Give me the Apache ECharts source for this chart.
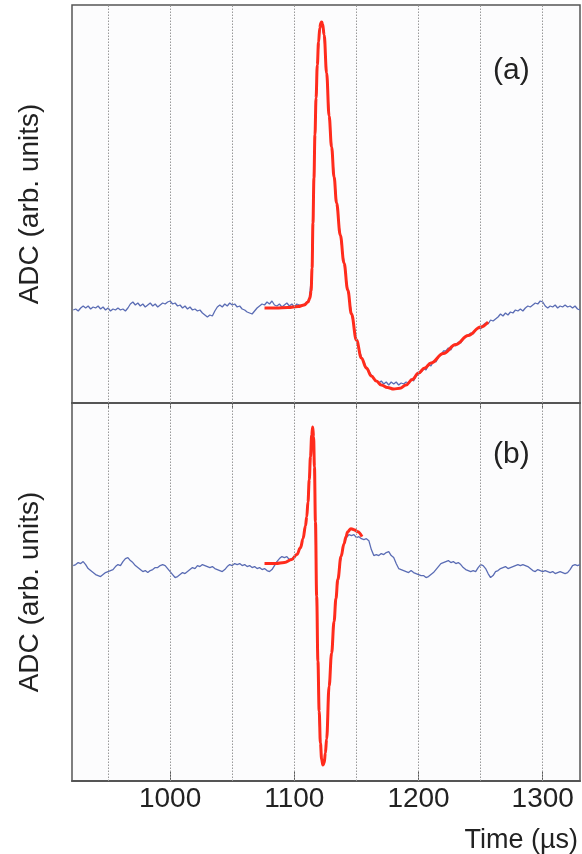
<!DOCTYPE html>
<html><head><meta charset="utf-8">
<script src="https://cdn.jsdelivr.net/npm/echarts@6/dist/echarts.min.js"></script>
<style>html,body{margin:0;padding:0;background:#fff}#c{width:582px;height:854px}</style>
</head><body><div id="c"></div>
<script>
const sampleStart = 922, sampleStep = 2;
// panel (a) raw ADC trace, one value per sample
const adcA = [
  93, 94, 92, 95, 97, 95, 97, 94, 96, 95,
  97, 94, 96, 93, 95, 92, 94, 93, 95, 93,
  94, 92, 95, 99, 101, 98, 100, 97, 99, 96,
  98, 100, 97, 99, 96, 98, 100, 99, 101, 102,
  99, 100, 97, 98, 95, 97, 94, 96, 93, 94,
  92, 93, 90, 88, 86, 88, 87, 92, 96, 98,
  96, 99, 97, 100, 98, 99, 96, 97, 94, 93,
  91, 90, 89, 92, 95, 97, 99, 98, 101, 99,
  102, 98, 97, 99, 96, 98, 100, 97, 99, 96,
  99, 98, 97, 99, 100, 104, 128, 240, 322, 368,
  382, 366, 328, 290, 258, 228, 202, 178, 158, 141,
  122, 106, 90, 76, 64, 54, 46, 41, 35, 32,
  28, 24, 22, 20, 22, 19, 21, 18, 21, 19,
  21, 18, 20, 19, 21, 20, 24, 22, 27, 29,
  31, 34, 33, 38, 37, 42, 41, 46, 48, 52,
  52, 55, 53, 58, 57, 61, 60, 64, 66, 68,
  70, 69, 73, 75, 74, 78, 80, 79, 83, 82,
  84, 86, 89, 87, 90, 88, 91, 90, 93, 92,
  94, 92, 95, 97, 96, 98, 100, 99, 102, 101,
  97, 95, 97, 96, 98, 95, 97, 96, 98, 96,
  97, 95, 97, 94, 93
];
// panel (b) raw ADC trace
const adcB = [
  216, 217, 219, 218, 220, 217, 213, 211, 209, 207,
  206, 205, 207, 209, 210, 211, 212, 215, 217, 216,
  220, 223, 224, 221, 219, 216, 214, 212, 210, 211,
  209, 211, 212, 214, 214, 216, 217, 216, 213, 210,
  207, 204, 205, 207, 209, 208, 210, 212, 214, 213,
  216, 215, 217, 216, 215, 214, 215, 213, 212, 211,
  210, 212, 215, 217, 216, 218, 217, 218, 216, 217,
  215, 216, 214, 215, 213, 214, 212, 213, 211, 210,
  212, 216, 220, 223, 225, 224, 225, 222, 223, 225,
  227, 231, 238, 249, 266, 302, 350, 322, 172, 62,
  19, 17, 42, 94, 128, 160, 189, 211, 228, 238,
  244, 247, 246, 247, 244, 245, 243, 242, 243, 241,
  232, 226, 227, 226, 228, 227, 229, 230, 226, 224,
  218, 213, 212, 211, 210, 209, 211, 209, 208, 207,
  206, 206, 204, 205, 207, 209, 212, 215, 218, 219,
  220, 221, 219, 220, 218, 219, 217, 214, 212, 211,
  210, 211, 210, 214, 217, 216, 213, 208, 204, 206,
  210, 211, 213, 214, 215, 213, 214, 215, 216, 217,
  216, 217, 216, 215, 213, 211, 210, 212, 211, 210,
  211, 210, 209, 210, 208, 209, 210, 209, 208, 209,
  212, 216, 217, 216, 217
];
// fitted pulse shapes
const fitTimeA = [1076, 1085, 1095, 1103, 1108, 1111, 1112.5, 1113.5, 1114.3, 1115,
  1115.8, 1116.6, 1117.5, 1118.5, 1119.5, 1120.5, 1121.3, 1122, 1122.8, 1124,
  1126, 1128, 1130, 1132, 1134, 1137, 1140, 1143, 1146, 1150,
  1154, 1158, 1162, 1166, 1170, 1175, 1180, 1185, 1190, 1195,
  1200, 1205, 1210, 1220, 1230, 1240, 1250, 1256];
const fitA = [95, 95, 95.5, 96.5, 98, 101, 105, 112, 135, 180,
  225, 268, 305, 338, 361, 375, 380, 381, 379, 368,
  330, 287, 256, 226, 200, 168, 140, 113, 89, 63,
  45, 35, 27, 22, 18, 15.5, 14, 14.8, 18, 23.5,
  30, 35, 40, 49.5, 58.5, 67.5, 76, 81];
const fitTimeB = [1076, 1085, 1092, 1098, 1102, 1105, 1107, 1109, 1110, 1111,
  1112, 1113, 1114, 1114.8, 1115.5, 1116.2, 1117, 1118, 1119, 1120,
  1121, 1122, 1123, 1124, 1125, 1126, 1128, 1130, 1132, 1133.5,
  1135, 1137.6, 1140, 1141.6, 1143, 1145.6, 1148, 1151, 1154.5];
const fitB = [218, 218, 219, 222, 227, 234, 243, 256, 265, 280,
  302, 325, 347, 355, 345, 315, 260, 185, 120, 70,
  38, 22, 16, 18, 28, 42, 95, 128, 160, 183,
  202, 225, 238, 245, 250, 253, 252, 250, 245];
// axes
const timeMin = 921, timeMax = 1330;
const gridTimes = [950, 1000, 1050, 1100, 1150, 1200, 1250, 1300];
const labelTimes = [1000, 1100, 1200, 1300];
const yName = 'ADC (arb. units)';
const xName = 'Time (µs)';
const panelLabels = ['(a)', '(b)'];

const FONT = '"Liberation Sans", Arial, Helvetica, sans-serif';
const frame = '#555';
const blue = '#5a6cb4', red = '#ff2b1c';

const rawA = adcA.map((v, i) => [sampleStart + i * sampleStep, v]);
const rawB = adcB.map((v, i) => [sampleStart + i * sampleStep, v]);
const fA = fitTimeA.map((t, i) => [t, fitA[i]]);
const fB = fitTimeB.map((t, i) => [t, fitB[i]]);

const gridMark = {
  silent: true, symbol: ['none', 'none'], label: {show: false},
  lineStyle: {color: '#999', type: [1.5, 1.5], width: 1},
  data: gridTimes.map(t => ({xAxis: t}))
};

const chart = echarts.init(document.getElementById('c'), null, {renderer: 'canvas'});
chart.setOption({
  backgroundColor: '#fff',
  animation: false,
  grid: [
    {left: 72, top: 5, width: 508, height: 398, show: true, backgroundColor: '#fcfcfd', borderColor: frame, borderWidth: 1.5},
    {left: 72, top: 403, width: 508, height: 379, show: true, backgroundColor: '#fcfcfd', borderColor: frame, borderWidth: 1.5}
  ],
  xAxis: [
    {gridIndex: 0, type: 'value', min: timeMin, max: timeMax,
      axisLine: {show: true, lineStyle: {color: frame, width: 2}},
      axisTick: {show: true, inside: false, length: 6, customValues: gridTimes, lineStyle: {color: frame}},
      axisLabel: {show: false}, splitLine: {show: false}},
    {gridIndex: 1, type: 'value', min: timeMin, max: timeMax,
      name: xName, nameLocation: 'end', nameGap: 0,
      nameTextStyle: {fontFamily: FONT, fontSize: 27, color: '#222', align: 'right', verticalAlign: 'top', padding: [46, 2, 0, 0]},
      axisLine: {show: true, lineStyle: {color: frame, width: 2}},
      axisTick: {show: true, inside: true, length: 10, customValues: labelTimes, lineStyle: {color: frame}},
      axisLabel: {show: true, customValues: labelTimes, fontFamily: FONT, fontSize: 28, color: '#222', margin: 4,
        formatter: v => String(v)},
      splitLine: {show: false}}
  ],
  yAxis: [
    {gridIndex: 0, type: 'value', min: 0, max: 398, name: yName, nameLocation: 'middle', nameGap: 28,
      nameTextStyle: {fontFamily: FONT, fontSize: 28, color: '#222'},
      axisLine: {show: false}, axisTick: {show: false}, axisLabel: {show: false}, splitLine: {show: false}},
    {gridIndex: 1, type: 'value', min: 0, max: 379, name: yName, nameLocation: 'middle', nameGap: 28,
      nameTextStyle: {fontFamily: FONT, fontSize: 28, color: '#222'},
      axisLine: {show: false}, axisTick: {show: false}, axisLabel: {show: false}, splitLine: {show: false}}
  ],
  series: [
    {type: 'line', xAxisIndex: 0, yAxisIndex: 0, data: rawA, showSymbol: false, z: 3,
      lineStyle: {color: blue, width: 1.3}, markLine: gridMark},
    {type: 'line', xAxisIndex: 0, yAxisIndex: 0, data: fA, showSymbol: false, smooth: 0.4, smoothMonotone: 'x', z: 4,
      lineStyle: {color: red, width: 3}},
    {type: 'line', xAxisIndex: 1, yAxisIndex: 1, data: rawB, showSymbol: false, z: 3,
      lineStyle: {color: blue, width: 1.3}, markLine: gridMark},
    {type: 'line', xAxisIndex: 1, yAxisIndex: 1, data: fB, showSymbol: false, smooth: 0.4, smoothMonotone: 'x', z: 4,
      lineStyle: {color: red, width: 3}}
  ],
  graphic: [
    {type: 'text', left: 493, top: 56, style: {text: panelLabels[0], font: '30px ' + FONT, fill: '#222'}},
    {type: 'text', left: 493, top: 440, style: {text: panelLabels[1], font: '30px ' + FONT, fill: '#222'}}
  ]
});
</script></body></html>
